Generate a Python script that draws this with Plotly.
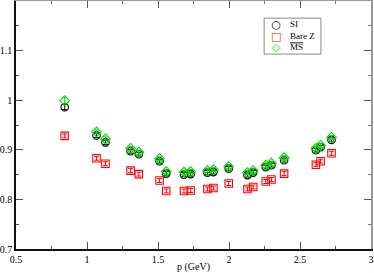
import plotly.graph_objects as go

# data
p = [0.843, 1.067, 1.130, 1.307, 1.365, 1.511, 1.558, 1.683, 1.730, 1.848,
     1.890, 1.998, 2.130, 2.170, 2.259, 2.299, 2.388, 2.612, 2.645, 2.722]
si = [0.986, 0.929, 0.915, 0.897, 0.891, 0.877, 0.852, 0.850, 0.851, 0.854,
      0.855, 0.862, 0.849, 0.854, 0.865, 0.869, 0.879, 0.899, 0.905, 0.920]
bare = [0.928, 0.883, 0.872, 0.858, 0.851, 0.838, 0.817, 0.817, 0.818, 0.821,
        0.823, 0.832, 0.821, 0.825, 0.836, 0.840, 0.852, 0.870, 0.877, 0.893]
ms = [0.999, 0.936, 0.922, 0.903, 0.895, 0.882, 0.856, 0.855, 0.856, 0.858,
      0.860, 0.866, 0.854, 0.858, 0.869, 0.873, 0.884, 0.903, 0.909, 0.925]
si_err = [0.005] + [0.004] * 19
bare_err = [0.004] * 20
ms_err = [0.006] + [0.004] * 19

x_ticks = [0.5, 1, 1.5, 2, 2.5, 3]
x_labels = ["0.5", "1", "1.5", "2", "2.5", "3"]
y_ticks = [0.7, 0.8, 0.9, 1.0, 1.1]
y_labels = ["0.7", "0.8", "0.9", "1", "1.1"]

series_names = ["SI", "Bare Z", '<span style="text-decoration:overline">MS</span>']
series_colors = ["#000000", "#ff0000", "#00dd00"]
series_symbols = ["circle-open", "square-open", "diamond-open"]
legend_glyphs = ["○", "□", "◇"]

FONT = "Liberation Serif, Times New Roman, serif"

fig = go.Figure()
for vals, errs, name, col, sym in zip([si, bare, ms], [si_err, bare_err, ms_err],
                                      series_names, series_colors, series_symbols):
    fig.add_trace(go.Scatter(
        x=p, y=vals, mode="markers", name=name, showlegend=False,
        marker=dict(symbol=sym, size=7.5, color=col, line=dict(width=1.1, color=col)),
        error_y=dict(type="data", array=errs, visible=True, color=col,
                     thickness=1, width=2.5),
    ))

# invisible trace to activate mirrored axes
fig.add_trace(go.Scatter(x=[None], y=[None], xaxis="x2", yaxis="y2",
                         showlegend=False, hoverinfo="skip"))

common_axis = dict(showgrid=False, zeroline=False, ticks="inside",
                   tickcolor="#555555", ticklen=7, tickwidth=1,
                   linewidth=1.5, automargin=False)

fig.update_layout(
    width=374, height=273,
    margin=dict(l=16, r=3, t=1, b=24, autoexpand=False),
    paper_bgcolor="white", plot_bgcolor="white",
    font=dict(family=FONT, size=10, color="#000000"),
    xaxis=dict(range=[0.5, 3], tickvals=x_ticks, ticktext=x_labels,
               linecolor="#111111",
               minor=dict(dtick=0.25, tick0=0.5, ticks="inside", ticklen=3,
                          tickcolor="#555555"),
               title=dict(text="p (GeV)", font=dict(family=FONT, size=10), standoff=0),
               **common_axis),
    yaxis=dict(range=[0.7, 1.2], tickvals=y_ticks, ticktext=y_labels,
               linecolor="#111111",
               minor=dict(dtick=0.05, tick0=0.7, ticks="inside", ticklen=3,
                          tickcolor="#555555"),
               **common_axis),
    xaxis2=dict(overlaying="x", matches="x", side="top", showticklabels=False,
                tickvals=x_ticks, linecolor="#999999",
                minor=dict(dtick=0.25, tick0=0.5, ticks="inside", ticklen=3,
                           tickcolor="#777777"),
                **common_axis),
    yaxis2=dict(overlaying="y", matches="y", side="right", showticklabels=False,
                tickvals=y_ticks, linecolor="#999999",
                minor=dict(dtick=0.05, tick0=0.7, ticks="inside", ticklen=3,
                           tickcolor="#777777"),
                **common_axis),
)

# hand-drawn legend box (paper coordinates)
fig.add_shape(type="rect", xref="paper", yref="paper",
              x0=0.699, x1=0.859, y0=0.786, y1=0.931,
              line=dict(color="#888888", width=1), fillcolor="white")
glyph_text = "<br>".join(f'<span style="color:{c};font-size:11px">{g}</span>'
                         for g, c in zip(legend_glyphs, series_colors))
fig.add_annotation(xref="paper", yref="paper", x=0.732, y=0.859, text=glyph_text,
                   showarrow=False, xanchor="center", yanchor="middle", align="center",
                   font=dict(family="DejaVu Sans", size=9))
fig.add_annotation(xref="paper", yref="paper", x=0.766, y=0.859,
                   text="<br>".join(series_names),
                   showarrow=False, xanchor="left", yanchor="middle", align="left",
                   font=dict(family=FONT, size=9, color="#000000"))

fig.write_html("out.html", config={"displayModeBar": False},
               post_script="document.body.style.margin='0';document.body.style.overflow='hidden';")
